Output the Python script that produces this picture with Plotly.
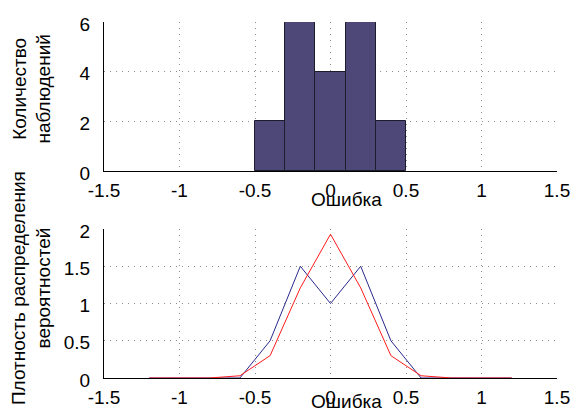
import plotly.graph_objects as go

# Histogram of errors: bin centres and observation counts
bin_centers = [-0.4, -0.2, 0.0, 0.2, 0.4]
bin_counts = [2, 6, 4, 6, 2]
bin_width = 0.2

# Probability density curves evaluated on a grid
density_x = [-1.2, -1.0, -0.8, -0.6, -0.4, -0.2, 0.0, 0.2, 0.4, 0.6, 0.8, 1.0, 1.2]
empirical_density = [0, 0, 0, 0, 0.5, 1.5, 1.0, 1.5, 0.5, 0, 0, 0, 0]
normal_density = [0, 0, 0.0002, 0.03, 0.3, 1.21, 1.93, 1.21, 0.3, 0.03, 0.0002, 0, 0]

x_ticks = [-1.5, -1, -0.5, 0, 0.5, 1, 1.5]
x_tick_text = ["-1.5", "-1", "-0.5", "0", "0.5", "1", "1.5"]
hist_y_ticks = [0, 2, 4, 6]
dens_y_ticks = [0, 0.5, 1, 1.5, 2]
dens_y_text = ["0", "0.5", "1", "1.5", "2"]

FONT = dict(family="Liberation Sans, Arial, sans-serif", size=19, color="black")
GRID = "#8c8c8c"

fig = go.Figure()

fig.add_trace(go.Bar(
    x=bin_centers, y=bin_counts, width=bin_width,
    marker=dict(color="#4d4878", line=dict(color="#1c1c2c", width=1)),
    xaxis="x", yaxis="y", showlegend=False,
))

fig.add_trace(go.Scatter(
    x=density_x, y=empirical_density, mode="lines",
    line=dict(color="#28288e", width=1),
    xaxis="x2", yaxis="y2", showlegend=False,
))
fig.add_trace(go.Scatter(
    x=density_x, y=normal_density, mode="lines",
    line=dict(color="#ff1a1a", width=1),
    xaxis="x2", yaxis="y2", showlegend=False,
))

axis_common = dict(
    showgrid=True, gridcolor=GRID, griddash="1px,5px", gridwidth=1,
    showline=True, linecolor="black", linewidth=1, automargin=False,
    zeroline=False, ticks="", tickfont=FONT, mirror=False,
)
x_axis_style = dict(axis_common, range=[-1.5, 1.5], tickvals=x_ticks,
                    ticktext=x_tick_text, domain=[0, 1], ticklabelstandoff=2)
y_axis_style = dict(axis_common, ticklabelstandoff=9, ticklabelshift=2)

label_style = dict(xref="paper", yref="paper", showarrow=False, font=FONT,
                   xanchor="center", yanchor="middle", borderpad=0)

fig.update_layout(
    width=575, height=412,
    margin=dict(l=104, r=18, t=22, b=34),
    paper_bgcolor="white", plot_bgcolor="white",
    bargap=0,
    xaxis=dict(x_axis_style, anchor="y"),
    yaxis=dict(y_axis_style, range=[0, 6], tickvals=hist_y_ticks,
               domain=[0.5815, 1], anchor="x"),
    xaxis2=dict(x_axis_style, anchor="y2"),
    yaxis2=dict(y_axis_style, range=[0, 2], tickvals=dens_y_ticks, ticktext=dens_y_text,
                domain=[0, 0.4185], anchor="x2"),
    annotations=[
        dict(label_style, text="Ошибка", x=0.5358, y=0.5028),
        dict(label_style, text="Ошибка", x=0.5358, y=-0.067),
        dict(label_style, text="Количество<br>наблюдений",
             x=-0.1600, y=0.8118, textangle=-90),
        dict(label_style, text="Плотность распределения<br>вероятностей",
             x=-0.1610, y=0.2528, textangle=-90),
    ],
)

fig.write_html("out.html")
